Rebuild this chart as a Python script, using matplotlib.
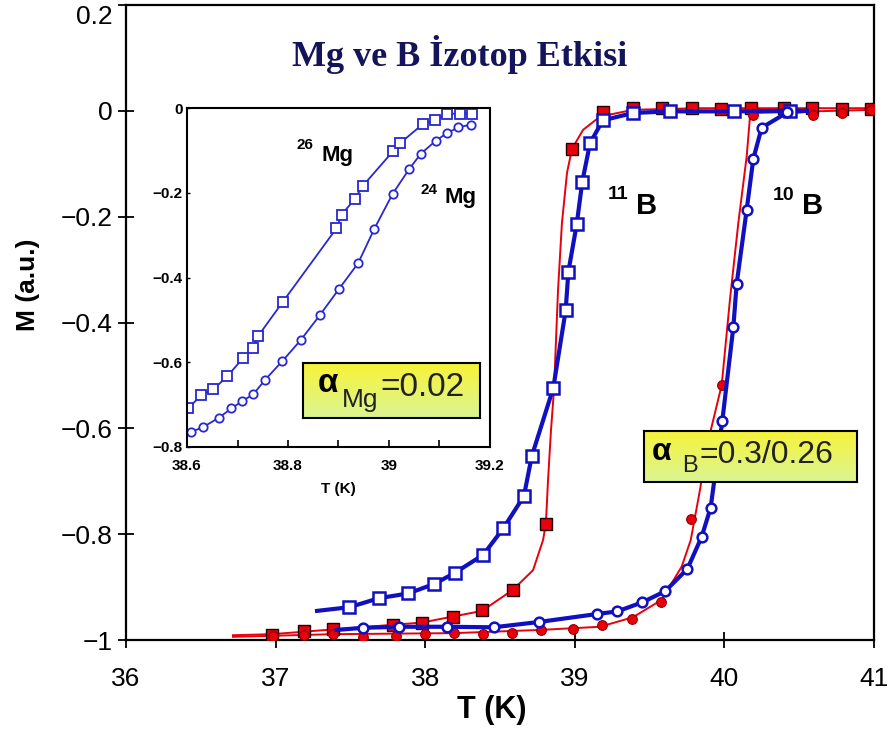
import matplotlib
matplotlib.use("Agg")
import matplotlib.pyplot as plt
import numpy as np

plt.rcParams['font.family'] = ['Liberation Sans', 'DejaVu Sans']

W, H = 895, 731

# main panel: 11B (red squares / blue squares), 10B (red circles / blue circles)
b11_red_T = [36.974, 37.190, 37.386, 37.785, 37.979, 38.186, 38.380, 38.589, 38.806, 38.979,
             39.187, 39.391, 39.581, 39.781, 39.975, 40.176, 40.398, 40.584, 40.784, 40.978]
b11_red_M = [-0.991, -0.983, -0.980, -0.972, -0.968, -0.956, -0.944, -0.906, -0.780, -0.072,
             -0.002, 0.005, 0.005, 0.005, 0.004, 0.005, 0.005, 0.005, 0.003, 0.004]
b11_red_fit_T = [36.715, 36.976, 37.384, 37.979, 38.380, 38.587, 38.721, 38.788, 38.807, 38.821,
                 38.841, 38.861, 38.888, 38.914, 38.948, 38.981, 39.055, 39.168, 39.389, 39.837, 41.0]
b11_red_fit_M = [-0.991, -0.989, -0.980, -0.967, -0.945, -0.905, -0.868, -0.811, -0.779, -0.698,
                 -0.603, -0.527, -0.338, -0.212, -0.117, -0.072, -0.036, -0.011, 0.002, 0.005, 0.005]

b11_blue_T = [37.493, 37.691, 37.887, 38.061, 38.199, 38.388, 38.522, 38.660, 38.712, 38.856,
              38.939, 38.957, 39.013, 39.050, 39.102, 39.187, 39.391, 39.636, 40.064, 40.438]
b11_blue_M = [-0.938, -0.921, -0.912, -0.894, -0.873, -0.839, -0.789, -0.728, -0.653, -0.524,
              -0.377, -0.304, -0.214, -0.134, -0.061, -0.018, -0.004, -0.001, -0.001, 0.0]
b11_blue_fit_T = [37.277] + b11_blue_T + [40.55]
b11_blue_fit_M = [-0.945] + b11_blue_M + [0.0]

b10_red_T = [36.981, 37.190, 37.386, 37.586, 37.805, 37.999, 38.193, 38.388, 38.582, 38.772, 38.986,
             39.180, 39.382, 39.576, 39.775, 39.982, 40.193, 40.398, 40.590, 40.784, 40.978]
b10_red_M = [-0.992, -0.991, -0.989, -0.994, -0.992, -0.989, -0.987, -0.989, -0.986, -0.981, -0.980,
             -0.972, -0.961, -0.929, -0.772, -0.518, -0.008, -0.002, -0.008, -0.004, 0.002]
b10_red_fit_T = [36.715, 37.384, 38.193, 38.767, 39.168, 39.389, 39.581, 39.715, 39.775, 39.837,
                 39.882, 39.982, 40.037, 40.093, 40.149, 40.171, 40.191, 41.0]
b10_red_fit_M = [-0.994, -0.989, -0.987, -0.981, -0.975, -0.957, -0.924, -0.861, -0.811, -0.716,
                 -0.635, -0.518, -0.357, -0.212, -0.086, -0.011, -0.004, 0.002]

b10_blue_T = [37.584, 37.823, 38.148, 38.458, 38.759, 39.146, 39.284, 39.449, 39.603, 39.752,
              39.848, 39.908, 39.986, 40.060, 40.082, 40.149, 40.193, 40.249, 40.420]
b10_blue_M = [-0.977, -0.975, -0.975, -0.976, -0.966, -0.951, -0.946, -0.929, -0.908, -0.866,
              -0.805, -0.750, -0.586, -0.408, -0.327, -0.187, -0.091, -0.032, -0.003]
b10_blue_fit_T = [37.408] + b10_blue_T + [40.55]
b10_blue_fit_M = [-0.981] + b10_blue_M + [0.0]

# inset: Mg isotope
mg26_T = [38.602, 38.628, 38.652, 38.680, 38.711, 38.731, 38.741, 38.790, 38.896, 38.906,
          38.932, 38.948, 39.008, 39.022, 39.067, 39.091, 39.115, 39.141, 39.164]
mg26_M = [-0.709, -0.678, -0.664, -0.633, -0.590, -0.566, -0.538, -0.457, -0.284, -0.252,
          -0.215, -0.184, -0.102, -0.083, -0.038, -0.029, -0.014, -0.013, -0.013]
mg24_T = [38.607, 38.632, 38.663, 38.688, 38.709, 38.731, 38.755, 38.789, 38.825, 38.863,
          38.901, 38.939, 38.971, 39.007, 39.040, 39.063, 39.093, 39.115, 39.137, 39.162]
mg24_M = [-0.765, -0.753, -0.731, -0.709, -0.692, -0.676, -0.641, -0.597, -0.548, -0.489,
          -0.427, -0.366, -0.285, -0.203, -0.144, -0.108, -0.077, -0.059, -0.046, -0.039]

main_xticks = [36, 37, 38, 39, 40, 41]
main_yticks = [-1, -0.8, -0.6, -0.4, -0.2, 0, 0.2]
main_ylabels = ['\u22121', '\u22120.8', '\u22120.6', '\u22120.4', '\u22120.2', '0', '0.2']
inset_xticks = [38.6, 38.7, 38.8, 38.9, 39.0, 39.1, 39.2]
inset_xlabels = ['38.6', '', '38.8', '', '39', '', '39.2']
inset_yticks = [-0.8, -0.6, -0.4, -0.2, 0]
inset_ylabels = ['\u22120.8', '\u22120.6', '\u22120.4', '\u22120.2', '0']

RED = '#e8000c'
BLUE = '#1010c0'
BLUE_IN = '#2828d0'


def fx(x):
    return x / W


def fy(y):
    return 1 - y / H


fig = plt.figure(figsize=(W / 100, H / 100), dpi=100)
ax = fig.add_axes([fx(126), fy(640), fx(874) - fx(126), fy(5) - fy(640)])

# red fits + markers
ax.plot(b11_red_fit_T, b11_red_fit_M, color=RED, lw=1.4, zorder=2)
ax.plot(b10_red_fit_T, b10_red_fit_M, color=RED, lw=1.4, zorder=2)
ax.plot(b11_red_T, b11_red_M, 's', ms=8, mfc=RED, mec='#200000', mew=1.0, zorder=3)
ax.plot(b10_red_T, b10_red_M, 'o', ms=7, mfc=RED, mec='#900000', mew=0.8, zorder=3)

# blue fits + open markers
ax.plot(b11_blue_fit_T, b11_blue_fit_M, color=BLUE, lw=3.0, zorder=4)
ax.plot(b10_blue_fit_T, b10_blue_fit_M, color=BLUE, lw=3.0, zorder=4)
ax.plot(b11_blue_T, b11_blue_M, 's', ms=8, mfc='white', mec=BLUE, mew=1.8, zorder=5)
ax.plot(b10_blue_T, b10_blue_M, 'o', ms=7, mfc='white', mec=BLUE, mew=1.8, zorder=5)

ax.set_xlim(36, 41)
ax.set_ylim(-1, 0.2)
ax.set_xticks(main_xticks)
ax.set_xticklabels([str(t) for t in main_xticks])
ax.set_yticks(main_yticks)
ax.set_yticklabels(main_ylabels)
ax.tick_params(axis='x', direction='inout', length=11, width=1.3, labelsize=19, pad=14)
ax.tick_params(axis='y', direction='inout', length=11, width=1.3, labelsize=19, pad=4)
# the top label sits just under its tick, like in the source figure
ax.get_yticklabels()[-1].set_va('top')
for s in ax.spines.values():
    s.set_linewidth(1.6)

fig.text(fx(492), fy(710), 'T (K)', fontsize=22, fontweight='bold', ha='center', va='center')
fig.text(fx(28), fy(285), 'M (a.u.)', fontsize=19, fontweight='bold', ha='center', va='center',
         rotation=90)
fig.text(fx(460), fy(55), 'Mg ve B \u0130zotop Etkisi', fontsize=26, fontweight='bold',
         family='Liberation Serif', color='#14145a', ha='center', va='center')

# isotope labels in main panel
fig.text(fx(618), fy(194), '11', fontsize=14, fontweight='bold', ha='center', va='center')
fig.text(fx(647), fy(206), 'B', fontsize=21, fontweight='bold', ha='center', va='center')
fig.text(fx(784), fy(196), '10', fontsize=14, fontweight='bold', ha='center', va='center')
fig.text(fx(813), fy(206), 'B', fontsize=21, fontweight='bold', ha='center', va='center')

# inset
ax_in = fig.add_axes([fx(187), fy(447), fx(490) - fx(187), fy(108) - fy(447)])
ax_in.plot(mg26_T, mg26_M, '-s', color=BLUE_IN, lw=1.3, ms=7, mfc='white', mec=BLUE_IN, mew=1.3)
ax_in.plot(mg24_T, mg24_M, '-o', color=BLUE_IN, lw=1.3, ms=6, mfc='white', mec=BLUE_IN, mew=1.3)
ax_in.set_xlim(38.6, 39.2)
ax_in.set_ylim(-0.8, 0)
ax_in.set_xticks(inset_xticks)
ax_in.set_xticklabels(inset_xlabels)
ax_in.set_yticks(inset_yticks)
ax_in.set_yticklabels(inset_ylabels)
ax_in.tick_params(axis='x', direction='in', length=5, width=1.2, labelsize=11, pad=9)
ax_in.tick_params(axis='y', direction='in', length=2, width=1.0, labelsize=11, pad=3)
for lab in ax_in.get_xticklabels() + ax_in.get_yticklabels():
    lab.set_fontweight('bold')
ax_in.set_xlabel('T (K)', fontsize=11, fontweight='bold', labelpad=6)
for s in ax_in.spines.values():
    s.set_linewidth(1.5)

fig.text(fx(305), fy(145), '26', fontsize=11, fontweight='bold', ha='center', va='center')
fig.text(fx(338), fy(155), 'Mg', fontsize=16, fontweight='bold', ha='center', va='center')
fig.text(fx(429), fy(190), '24', fontsize=11, fontweight='bold', ha='center', va='center')
fig.text(fx(461), fy(198), 'Mg', fontsize=16, fontweight='bold', ha='center', va='center')


def alpha_box(x0, y0, x1, y1):
    bx = fig.add_axes([fx(x0), fy(y1), fx(x1) - fx(x0), fy(y0) - fy(y1)], zorder=6)
    top = np.array([0.97, 0.95, 0.22])
    bot = np.array([0.86, 0.96, 0.58])
    t = np.linspace(0, 1, 50)[:, None]
    grad = (top * (1 - t) + bot * t)[:, None, :]
    bx.imshow(grad, aspect='auto', extent=[0, 1, 0, 1])
    bx.set_xticks([])
    bx.set_yticks([])
    for s in bx.spines.values():
        s.set_linewidth(1.5)
    return bx


alpha_box(303, 363, 480, 418)
fig.text(fx(328), fy(384), '\u03b1', fontsize=24, fontweight='bold', ha='center', va='center',
         zorder=10)
fig.text(fx(360), fy(400), 'Mg', fontsize=19, color='#222222', ha='center', va='center', zorder=10)
fig.text(fx(380), fy(387), '=0.02', fontsize=24, color='#222222', ha='left', va='center',
         zorder=10)

alpha_box(644, 431, 857, 482)
fig.text(fx(662), fy(452), '\u03b1', fontsize=23, fontweight='bold', ha='center', va='center',
         zorder=10)
fig.text(fx(690), fy(466), 'B', fontsize=17, color='#222222', ha='center', va='center', zorder=10)
fig.text(fx(700), fy(455), '=0.3/0.26', fontsize=23, color='#222222', ha='left', va='center',
         zorder=10)

fig.savefig('out.png', dpi=100)
